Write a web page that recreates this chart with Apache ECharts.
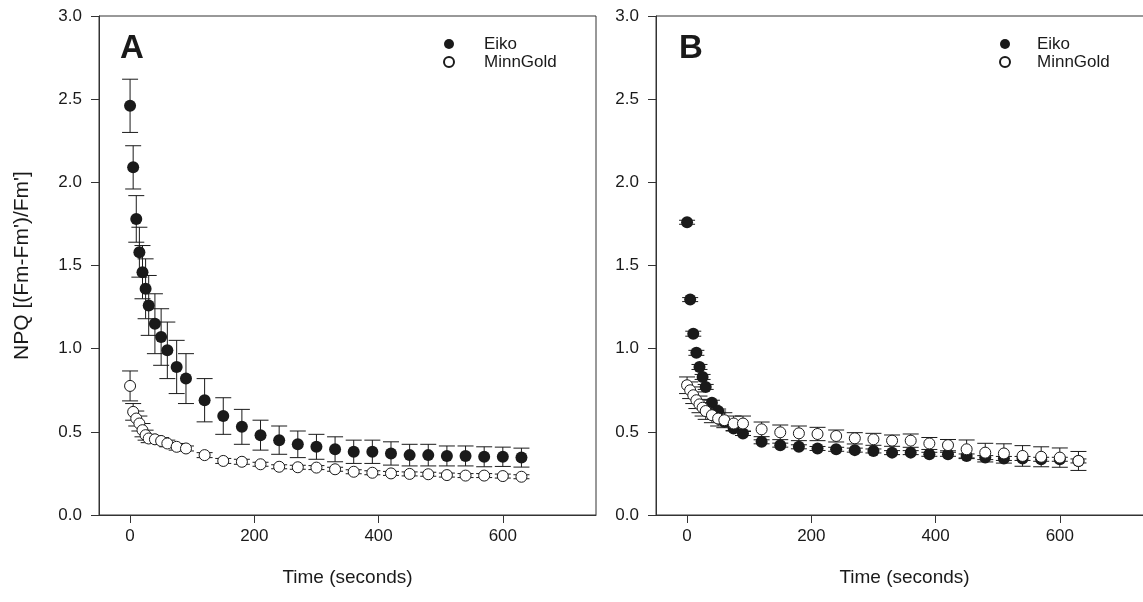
<!DOCTYPE html>
<html>
<head>
<meta charset="utf-8">
<script src="https://cdn.jsdelivr.net/npm/echarts@6/dist/echarts.min.js"></script>
<style>
html,body{margin:0;padding:0;background:#fff;}
#chart{width:1143px;height:602px;}
</style>
</head>
<body>
<div id="chart"></div>
<script>
// ---- data ----
const times = [0,5,10,15,20,25,30,40,50,60,75,90,120,150,180,210,240,270,300,330,360,390,420,450,480,510,540,570,600,630];

const eikoA   = [2.46,2.09,1.78,1.58,1.46,1.36,1.26,1.15,1.07,0.99,0.89,0.82,0.69,0.595,0.53,0.48,0.45,0.425,0.41,0.395,0.38,0.38,0.37,0.36,0.36,0.355,0.355,0.35,0.35,0.345];
const eikoAse = [0.16,0.13,0.14,0.15,0.16,0.18,0.18,0.18,0.17,0.17,0.16,0.15,0.13,0.11,0.105,0.09,0.085,0.08,0.075,0.075,0.07,0.07,0.07,0.065,0.065,0.06,0.06,0.06,0.058,0.057];
const minnA   = [0.776,0.62,0.58,0.55,0.51,0.48,0.46,0.455,0.445,0.43,0.41,0.40,0.36,0.325,0.32,0.305,0.29,0.287,0.285,0.275,0.26,0.254,0.25,0.247,0.245,0.24,0.237,0.237,0.234,0.23];
const minnAse = [0.09,0.05,0.045,0.045,0.04,0.03,0.025,0.02,0.02,0.02,0.02,0.015,0.015,0.015,0.015,0.012,0.012,0.012,0.012,0.012,0.012,0.012,0.012,0.012,0.012,0.012,0.012,0.012,0.012,0.012];

const eikoB   = [1.76,1.295,1.09,0.975,0.89,0.83,0.77,0.675,0.625,0.56,0.52,0.49,0.44,0.42,0.41,0.40,0.395,0.39,0.385,0.375,0.375,0.365,0.365,0.355,0.345,0.34,0.34,0.335,0.335,0.325];
const eikoBse = [0.012,0.012,0.015,0.015,0.015,0.015,0.015,0.015,0.012,0.012,0.012,0.012,0.012,0.012,0.012,0.012,0.012,0.012,0.012,0.012,0.012,0.012,0.012,0.012,0.012,0.012,0.012,0.012,0.012,0.012];
const minnB   = [0.78,0.75,0.72,0.69,0.665,0.645,0.625,0.60,0.58,0.57,0.55,0.55,0.515,0.497,0.491,0.487,0.475,0.461,0.455,0.447,0.447,0.43,0.42,0.395,0.375,0.37,0.355,0.35,0.345,0.325];
const minnBse = [0.05,0.05,0.05,0.05,0.05,0.05,0.05,0.045,0.045,0.045,0.045,0.045,0.044,0.044,0.044,0.04,0.036,0.034,0.036,0.034,0.04,0.036,0.034,0.056,0.056,0.058,0.062,0.06,0.058,0.057];

const xTicks = [0,200,400,600];
const yTicks = [0,0.5,1.0,1.5,2.0,2.5,3.0];
const seriesNames = ['Eiko','MinnGold'];
const panelLabels = ['A','B'];
const xTitle = 'Time (seconds)';
const yTitle = "NPQ [(Fm-Fm')/Fm']";

// ---- chart ----
const FONT = 'Liberation Sans, Arial, sans-serif';
const INK = '#1a1a1a';
const AX = '#333';

function pts(means){ return times.map((t,i)=>[t, means[i]]); }
function errs(means, se){ return times.map((t,i)=>[t, means[i]-se[i], means[i]+se[i]]); }

function errSeries(name, idx, means, se){
  return {
    name: name + ' SE', type:'custom', xAxisIndex: idx, yAxisIndex: idx,
    data: errs(means, se), silent:true, z: 2,
    itemStyle:{color: INK},
    encode:{x:0, y:[1,2]},
    renderItem: function(params, api){
      const x = api.value(0), lo = api.value(1), hi = api.value(2);
      const p1 = api.coord([x, hi]), p2 = api.coord([x, lo]);
      const hw = 8;
      const st = {stroke: INK, lineWidth: 1};
      return {type:'group', children:[
        {type:'line', shape:{x1:p1[0], y1:p1[1], x2:p2[0], y2:p2[1]}, style:st},
        {type:'line', shape:{x1:p1[0]-hw, y1:p1[1], x2:p1[0]+hw, y2:p1[1]}, style:st},
        {type:'line', shape:{x1:p2[0]-hw, y1:p2[1], x2:p2[0]+hw, y2:p2[1]}, style:st}
      ]};
    }
  };
}
function eikoSeries(idx, means){
  return {name: seriesNames[0], type:'scatter', xAxisIndex: idx, yAxisIndex: idx,
    data: pts(means), symbol:'circle', symbolSize: 12, z: 3,
    itemStyle:{color: INK, borderColor: INK, borderWidth: 0, opacity:1}};
}
function minnSeries(idx, means){
  return {name: seriesNames[1], type:'scatter', xAxisIndex: idx, yAxisIndex: idx,
    data: pts(means), symbol:'circle', symbolSize: 11, z: 5,
    itemStyle:{color:'#fff', borderColor: INK, borderWidth: 1, opacity:1}};
}

function xAxis(idx){
  return {type:'value', gridIndex: idx, min:-50, max:750,
    name: xTitle, nameLocation:'middle', nameGap: 53,
    nameTextStyle:{fontSize:19, color: INK, fontFamily: FONT},
    axisLine:{show:true, onZero:false, lineStyle:{color:AX, width:1}},
    axisTick:{show:true, inside:false, length:8, customValues: xTicks, lineStyle:{color:AX}},
    axisLabel:{customValues: xTicks, fontSize:17, color: INK, fontFamily: FONT, margin: 13},
    splitLine:{show:false}};
}
function yAxis(idx){
  return {type:'value', gridIndex: idx, min:0, max:3, interval:0.5,
    name: idx===0 ? yTitle : '', nameLocation:'middle', nameGap: 66,
    nameTextStyle:{fontSize:21, color: INK, fontFamily: FONT},
    axisLine:{show:true, onZero:false, lineStyle:{color:AX, width:1}},
    axisTick:{show:true, inside:false, length:8, lineStyle:{color:AX}},
    axisLabel:{fontSize:17, color: INK, fontFamily: FONT, margin: 17,
      formatter: v => yTicks.indexOf(v) >= 0 ? v.toFixed(1) : ''},
    splitLine:{show:false}};
}
function legend(left, pad){
  return {data: seriesNames, orient:'vertical', left: left, top: 30,
    itemWidth: 10, itemHeight: 10, itemGap: 0, icon:'circle',
    textStyle:{fontSize:17, lineHeight:18, color: INK, fontFamily: FONT, padding:[0,0,0,pad]}};
}

const chart = echarts.init(document.getElementById('chart'), null, {renderer:'canvas'});
chart.setOption({
  animation:false,
  backgroundColor:'#fff',
  title: [
    {text: panelLabels[0], left: 115, top: 27, textStyle:{fontSize:33, fontWeight:'bold', color:INK, fontFamily:FONT}},
    {text: panelLabels[1], left: 674, top: 27, textStyle:{fontSize:33, fontWeight:'bold', color:INK, fontFamily:FONT}}
  ],
  legend: [legend(438, 25), legend(994, 22)],
  grid: [
    {left:99, top:16, width:497, height:499, show:true, borderColor:AX, borderWidth:1, backgroundColor:'transparent', outerBoundsMode:'none', containLabel:false},
    {left:656, top:16, width:497, height:499, show:true, borderColor:AX, borderWidth:1, backgroundColor:'transparent', outerBoundsMode:'none', containLabel:false}
  ],
  xAxis: [xAxis(0), xAxis(1)],
  yAxis: [yAxis(0), yAxis(1)],
  series: [
    errSeries(seriesNames[0], 0, eikoA, eikoAse),
    eikoSeries(0, eikoA),
    errSeries(seriesNames[1], 0, minnA, minnAse),
    minnSeries(0, minnA),
    errSeries(seriesNames[0], 1, eikoB, eikoBse),
    eikoSeries(1, eikoB),
    errSeries(seriesNames[1], 1, minnB, minnBse),
    minnSeries(1, minnB)
  ]
});
</script>
</body>
</html>
